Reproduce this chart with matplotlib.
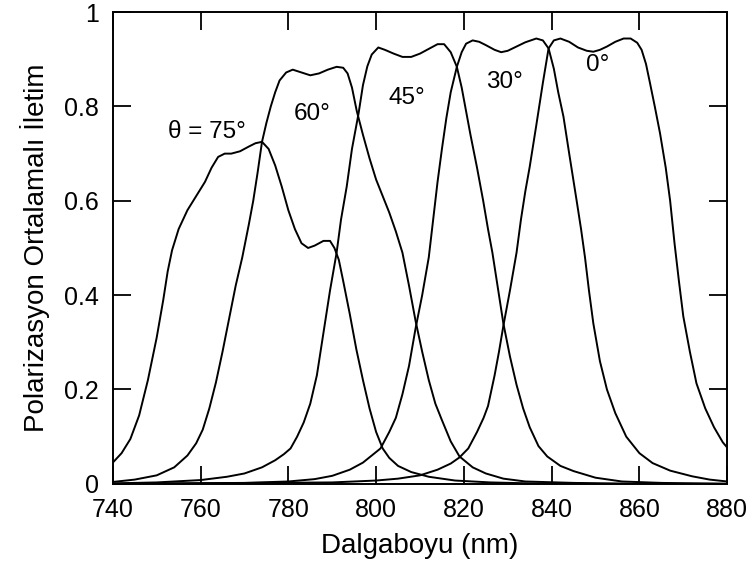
import matplotlib
matplotlib.use('Agg')
import matplotlib.pyplot as plt

plt.rcParams['font.family'] = ['Liberation Sans', 'DejaVu Sans']

wl_75 = [740, 742, 744, 746, 748, 750, 751.5, 752.5, 753.5, 755, 757, 759,
         761, 762.5, 764, 765.5, 767, 769, 771, 772.5, 774, 775.5, 777, 778.5,
         780, 781.5, 783, 784.5, 786, 788, 789.5, 790.5, 791.5, 792.5, 794,
         795.5, 797, 798.5, 800, 801.5, 803, 805, 808, 812, 818, 826, 835,
         850, 880]
t_75 = [0.045, 0.065, 0.095, 0.145, 0.22, 0.31, 0.39, 0.45, 0.495, 0.54,
        0.58, 0.61, 0.64, 0.67, 0.693, 0.70, 0.70, 0.705, 0.715, 0.722, 0.725,
        0.71, 0.675, 0.63, 0.58, 0.54, 0.51, 0.50, 0.505, 0.515, 0.515, 0.50,
        0.475, 0.43, 0.36, 0.285, 0.22, 0.16, 0.11, 0.075, 0.055, 0.038,
        0.025, 0.015, 0.007, 0.003, 0.001, 0.0, 0.0]

wl_60 = [740, 745, 750, 754, 757, 759, 760.5, 762, 763.5, 765, 766.5, 768,
         769.5, 771, 772, 773, 774, 775, 776, 777, 778, 779.5, 781, 783, 785,
         787, 789, 791, 792.5, 793.5, 794.5, 795.6, 797, 798.5, 800, 801.5,
         803, 804.5, 806, 807.5, 809, 810.5, 812, 813.5, 815, 817, 819, 822,
         825, 829, 834, 845, 860, 880]
t_60 = [0.004, 0.009, 0.018, 0.035, 0.06, 0.086, 0.115, 0.16, 0.215, 0.28,
        0.35, 0.42, 0.48, 0.55, 0.60, 0.66, 0.725, 0.765, 0.80, 0.83, 0.855,
        0.872, 0.878, 0.872, 0.866, 0.87, 0.878, 0.884, 0.882, 0.87, 0.84,
        0.79, 0.74, 0.69, 0.645, 0.61, 0.575, 0.535, 0.49, 0.42, 0.345, 0.28,
        0.22, 0.17, 0.135, 0.09, 0.058, 0.035, 0.022, 0.011, 0.005, 0.002,
        0.0, 0.0]

wl_45 = [740, 750, 760, 766, 770, 774, 777, 779, 780.5, 782, 783.5, 785,
         786.5, 788, 789.5, 791, 792, 793.3, 794.5, 796, 797, 798, 799, 800.5,
         802, 804, 806, 808, 810, 812, 814, 815.5, 817, 818.4, 819.5, 820.5,
         821.5, 823, 824.4, 825.5, 826.5, 827.5, 829, 830.5, 832, 833.5, 835,
         837, 839, 842, 845, 850, 856, 865, 880]
t_45 = [0.001, 0.003, 0.008, 0.015, 0.022, 0.035, 0.05, 0.063, 0.075, 0.10,
        0.13, 0.17, 0.23, 0.32, 0.41, 0.49, 0.56, 0.63, 0.71, 0.785, 0.845,
        0.885, 0.91, 0.925, 0.92, 0.912, 0.905, 0.905, 0.912, 0.922, 0.932,
        0.932, 0.915, 0.884, 0.84, 0.79, 0.74, 0.67, 0.60, 0.54, 0.49, 0.43,
        0.34, 0.27, 0.21, 0.16, 0.12, 0.08, 0.058, 0.038, 0.027, 0.013, 0.005,
        0.002, 0.0]

wl_30 = [740, 770, 780, 786, 790, 794, 797, 799, 801, 803, 804.5, 806,
         807.5, 809, 810.5, 812, 813, 814, 815, 816, 817, 818.4, 819.5, 820.5,
         822, 823.5, 825, 827, 828.5, 830, 832, 834, 836.5, 838, 839.3, 840.5,
         841.5, 842.7, 844, 845.7, 846.7, 847.6, 848.5, 849.5, 851, 852.6,
         854.5, 857, 860, 863, 867, 872, 876, 880]
t_30 = [0.0, 0.002, 0.005, 0.01, 0.017, 0.03, 0.045, 0.06, 0.075, 0.11, 0.14,
        0.19, 0.25, 0.33, 0.40, 0.48, 0.56, 0.64, 0.71, 0.775, 0.83, 0.884,
        0.915, 0.933, 0.94, 0.937, 0.93, 0.92, 0.915, 0.918, 0.927, 0.936,
        0.944, 0.94, 0.923, 0.88, 0.83, 0.778, 0.70, 0.60, 0.54, 0.48, 0.41,
        0.34, 0.26, 0.20, 0.15, 0.10, 0.065, 0.044, 0.028, 0.016, 0.009,
        0.005]

wl_0 = [740, 790, 800, 805, 810, 814, 817, 819, 821, 823, 824.5, 825.5, 827,
        828, 829, 830.5, 832, 833, 834, 835, 836.5, 838, 839.3, 840.5, 842,
        844, 846, 848, 849.5, 851, 852.6, 854.5, 856.4, 858, 859.5, 860.5,
        861.5, 862.4, 863.5, 864.7, 866, 867, 868, 869, 870, 871.5, 873, 875,
        877, 879, 880]
t_0 = [0.0, 0.003, 0.007, 0.011, 0.018, 0.03, 0.043, 0.056, 0.075, 0.11,
       0.14, 0.165, 0.23, 0.28, 0.335, 0.41, 0.49, 0.56, 0.62, 0.672, 0.76,
       0.85, 0.923, 0.94, 0.944, 0.937, 0.925, 0.918, 0.916, 0.92, 0.927,
       0.937, 0.944, 0.944, 0.935, 0.92, 0.89, 0.85, 0.80, 0.743, 0.67, 0.60,
       0.51, 0.43, 0.355, 0.28, 0.213, 0.16, 0.12, 0.088, 0.077]

curves = [(wl_75, t_75), (wl_60, t_60), (wl_45, t_45), (wl_30, t_30),
          (wl_0, t_0)]

angle_labels = ['θ = 75°', '60°', '45°', '30°', '0°']
label_x = [761.4, 785.5, 807.1, 829.2, 850.6]
label_y = [0.746, 0.784, 0.818, 0.852, 0.888]

x_ticks = [740, 760, 780, 800, 820, 840, 860, 880]
y_ticks = [0, 0.2, 0.4, 0.6, 0.8, 1]
y_tick_labels = ['0', '0.2', '0.4', '0.6', '0.8', '1']

fig = plt.figure(figsize=(7.52, 5.76), dpi=100)
ax = fig.add_axes([0.150, 0.160, 0.817, 0.819])

for wl, t in curves:
    ax.plot(wl, t, color='black', linewidth=1.4)

for text, x, y in zip(angle_labels, label_x, label_y):
    ax.text(x, y, text, fontsize=17.5, ha='center', va='center')

ax.set_xlim(740, 880)
ax.set_ylim(0, 1)
ax.set_xticks(x_ticks)
ax.set_yticks(y_ticks)
ax.set_yticklabels(y_tick_labels)
ax.tick_params(direction='in', length=13, width=1.3, labelsize=18,
               top=True, right=True, pad=10)
for spine in ax.spines.values():
    spine.set_linewidth(1.4)

ax.set_xlabel('Dalgaboyu (nm)', fontsize=20, labelpad=8)
ax.set_ylabel('Polarizasyon Ortalamalı İletim', fontsize=20, labelpad=10)

fig.savefig('out.png', dpi=100)
